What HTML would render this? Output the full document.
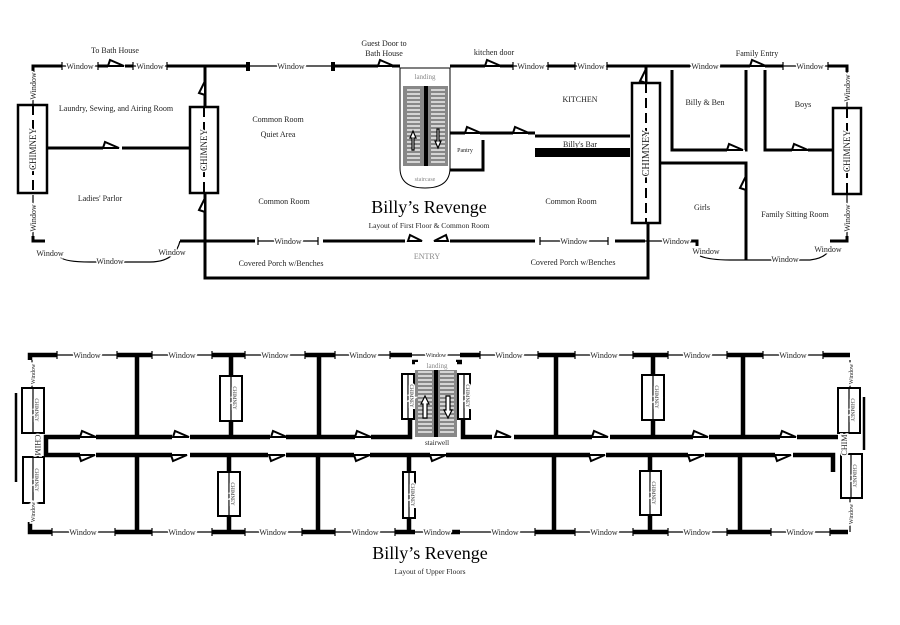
<!DOCTYPE html>
<html><head><meta charset="utf-8"><style>
html,body{margin:0;padding:0;background:#fff;}
svg{display:block;}
text{font-family:"Liberation Serif",serif;fill:#222;}
.w{font-size:8px;stroke:#fff;stroke-width:3px;paint-order:stroke;}
.l{font-size:8px;}
</style></head><body>
<svg width="900" height="625" viewBox="0 0 900 625" xmlns="http://www.w3.org/2000/svg">
<defs>
<polygon id="du" points="0,0 16,0 2,-6" fill="#fff" stroke="#000" stroke-width="2"/>
<polygon id="dd" points="0,0 16,0 2,6" fill="#fff" stroke="#000" stroke-width="2"/>
<polygon id="dv" points="0,0 0,-14 -6,-2" fill="#fff" stroke="#000" stroke-width="2"/>
</defs>

<!-- ================= FIRST FLOOR ================= -->
<g stroke="#000" stroke-width="3" fill="none">
<path d="M33,72 V66 H62 M98,66 H108 M125,66 H133 M167,66 H250 M333,66 H378 M392,66 H400 M450,66 H485 M500,66 H513 M548,66 H575 M607,66 H690 M720,66 H750 M765,66 H783 M828,66 H847 V72"/>
<path d="M33,236 V241 H45"/>
<path d="M48,148 H103 M122,148 H190"/>
<path d="M205,66 V107 M205,193 V278 H648 V223"/>
<path d="M646,66 V83"/>
<path d="M180,241 H255 M323,241 H405 M450,241 H535 M615,241 H645"/>
<path d="M690,241 H697 V246"/>
<path d="M450,133 H465 M480,133 H513 M528,133 H535 M535,136 H630"/>
<path d="M483,140 V170 H450"/>
<path d="M672,70 V150 H727 M745,150 H746 V70"/>
<path d="M765,70 V150 H792 M808,150 H832"/>
<path d="M660,163 H746 V260"/>
<path d="M847,236 V241 H830"/>
</g>
<rect x="535" y="148" width="95" height="9" fill="#000"/>
<g stroke="#000" stroke-width="1.2" fill="none">
<path d="M62,62 V70 M62,66 H98 M98,62 V70"/>
<path d="M133,62 V70 M133,66 H167 M167,62 V70"/>
<path d="M250,66 H333"/>
<path d="M513,62 V70 M513,66 H548 M548,62 V70"/>
<path d="M575,62 V70 M575,66 H607 M607,62 V70"/>
<path d="M690,66 H720"/>
<path d="M783,62 V70 M783,66 H828 M828,62 V70"/>
<path d="M258,237 V245 M258,241 H318 M318,237 V245"/>
<path d="M540,237 V245 M540,241 H608 M608,237 V245"/>
<path d="M645,241 H690"/>
<path d="M33,72 V105 M33,195 V236"/>
<path d="M847,72 V108 M847,194 V236"/>
<path d="M60,257 Q65,262 90,262 H150 Q175,262 180,241"/>
<path d="M700,256 Q710,260 730,260 H810 Q828,258 832,245"/>
</g>
<rect x="246" y="62" width="4" height="9" fill="#000"/>
<rect x="331" y="62" width="4" height="9" fill="#000"/>
<use href="#du" x="108" y="66"/>
<use href="#du" x="378" y="66"/>
<use href="#du" x="485" y="66"/>
<use href="#du" x="750" y="66"/>
<use href="#du" x="103" y="148"/>
<use href="#du" x="465" y="133"/>
<use href="#du" x="513" y="133"/>
<use href="#du" x="727" y="150"/>
<use href="#du" x="792" y="150"/>
<use href="#dv" x="205" y="95"/>
<use href="#dv" x="205" y="212"/>
<use href="#dv" x="646" y="83"/>
<use href="#dv" x="746" y="190"/>
<polygon points="408,241 422,241 410,235" fill="#fff" stroke="#000" stroke-width="2"/>
<polygon points="448,241 434,241 446,235" fill="#fff" stroke="#000" stroke-width="2"/>
<g fill="#fff" stroke="#000" stroke-width="2.5">
<rect x="18" y="105" width="29" height="88"/>
<rect x="190" y="107" width="28" height="86"/>
<rect x="632" y="83" width="28" height="140"/>
<rect x="833" y="108" width="28" height="86"/>
</g>
<g stroke="#000" stroke-width="2" stroke-dasharray="10,5">
<path d="M33,105 V193 M204,107 V193 M646,83 V223 M847,108 V194"/>
</g>
<g>
<text transform="translate(36,149) rotate(-90)" text-anchor="middle" class="w" style="font-size:9px">CHIMNEY</text>
<text transform="translate(207,150) rotate(-90)" text-anchor="middle" class="w" style="font-size:9px">CHIMNEY</text>
<text transform="translate(649,153) rotate(-90)" text-anchor="middle" class="w" style="font-size:10px">CHIMNEY</text>
<text transform="translate(850,151) rotate(-90)" text-anchor="middle" class="w" style="font-size:9px">CHIMNEY</text>
</g>
<path d="M400,68 V168 Q400,188 425,188 Q450,188 450,168 V68 Z" fill="#fff" stroke="#000" stroke-width="1"/>
<rect x="403" y="86" width="21" height="80" fill="#888"/>
<rect x="428" y="86" width="20" height="80" fill="#888"/>
<g stroke="#eee" stroke-width="1.5">
<path d="M407,90 H420 M407,94 H420 M407,98 H420 M407,102 H420 M407,106 H420 M407,110 H420 M407,114 H420 M407,118 H420 M407,122 H420 M407,126 H420 M407,130 H420 M407,134 H420 M407,138 H420 M407,142 H420 M407,146 H420 M407,150 H420 M407,154 H420 M407,158 H420 M407,162 H420"/>
<path d="M431,90 H445 M431,94 H445 M431,98 H445 M431,102 H445 M431,106 H445 M431,110 H445 M431,114 H445 M431,118 H445 M431,122 H445 M431,126 H445 M431,130 H445 M431,134 H445 M431,138 H445 M431,142 H445 M431,146 H445 M431,150 H445 M431,154 H445 M431,158 H445 M431,162 H445"/>
</g>
<rect x="424" y="86" width="4" height="80" fill="#000"/>
<polygon points="413,131 410,138 412,138 412,150 414,150 414,138 416,138" fill="#fff" stroke="#000" stroke-width="1.2"/>
<polygon points="438,148 435,141 437,141 437,129 439,129 439,141 441,141" fill="#fff" stroke="#000" stroke-width="1.2"/>
<text x="425" y="79" text-anchor="middle" class="l" style="fill:#888;font-size:7px">landing</text>
<text x="425" y="181" text-anchor="middle" class="l" style="fill:#888;font-size:6px">staircase</text>
<g class="l">
<text x="115" y="53" text-anchor="middle">To Bath House</text>
<text x="384" y="46" text-anchor="middle">Guest Door to</text>
<text x="384" y="56" text-anchor="middle">Bath House</text>
<text x="494" y="55" text-anchor="middle">kitchen door</text>
<text x="757" y="56" text-anchor="middle">Family Entry</text>
<text x="116" y="111" text-anchor="middle">Laundry, Sewing, and Airing Room</text>
<text x="278" y="122" text-anchor="middle">Common Room</text>
<text x="278" y="137" text-anchor="middle">Quiet Area</text>
<text x="100" y="201" text-anchor="middle">Ladies' Parlor</text>
<text x="284" y="204" text-anchor="middle">Common Room</text>
<text x="580" y="102" text-anchor="middle">KITCHEN</text>
<text x="580" y="147" text-anchor="middle">Billy's Bar</text>
<text x="465" y="152" text-anchor="middle" style="font-size:6px">Pantry</text>
<text x="571" y="204" text-anchor="middle">Common Room</text>
<text x="705" y="105" text-anchor="middle">Billy &amp; Ben</text>
<text x="803" y="107" text-anchor="middle">Boys</text>
<text x="702" y="210" text-anchor="middle">Girls</text>
<text x="795" y="217" text-anchor="middle">Family Sitting Room</text>
<text x="281" y="266" text-anchor="middle">Covered Porch w/Benches</text>
<text x="573" y="265" text-anchor="middle">Covered Porch w/Benches</text>
<text x="427" y="259" text-anchor="middle" style="fill:#888">ENTRY</text>
<text x="429" y="213" text-anchor="middle" style="font-size:18px;fill:#000">Billy’s Revenge</text>
<text x="429" y="228" text-anchor="middle" style="font-size:7.5px">Layout of First Floor &amp; Common Room</text>
</g>
<g class="w" text-anchor="middle">
<text x="80" y="69">Window</text>
<text x="150" y="69">Window</text>
<text x="291" y="69">Window</text>
<text x="531" y="69">Window</text>
<text x="591" y="69">Window</text>
<text x="705" y="69">Window</text>
<text x="810" y="69">Window</text>
<text x="288" y="244">Window</text>
<text x="574" y="244">Window</text>
<text x="676" y="244">Window</text>
<text x="50" y="256">Window</text>
<text x="110" y="264">Window</text>
<text x="172" y="255">Window</text>
<text x="706" y="254">Window</text>
<text x="785" y="262">Window</text>
<text x="828" y="252">Window</text>
<text transform="translate(36,86) rotate(-90)">Window</text>
<text transform="translate(36,218) rotate(-90)">Window</text>
<text transform="translate(850,88) rotate(-90)">Window</text>
<text transform="translate(850,218) rotate(-90)">Window</text>
</g>

<!-- ================= UPPER FLOORS ================= -->
<g stroke="#000" stroke-width="4.5" fill="none">
<path d="M30,360 V355 H57 M117,355 H152 M212,355 H245 M305,355 H335 M390,355 H412 M460,355 H480 M538,355 H575 M633,355 H668 M727,355 H763 M823,355 H850"/>
<path d="M30,522 V532 H52 M115,532 H152 M212,532 H245 M302,532 H335 M395,532 H415 M440,532 H460 M535,532 H575 M633,532 H668 M727,532 H771 M830,532 H848"/>
<path d="M80,437 H46 V455 H80 M96,437 H172 M190,437 H270 M286,437 H355 M371,437 H410 V420 M463,420 V437 H492 M514,437 H592 M610,437 H693 M709,437 H780 M797,437 H838"/>
<path d="M96,455 H172 M190,455 H268 M286,455 H354 M370,455 H430 M446,455 H590 M606,455 H688 M705,455 H775 M793,455 H833 V472"/>
<path d="M137,355 V437 M319,355 V437 M556,355 V437 M743,355 V437"/>
<path d="M231,355 V376 M231,421 V437 M653,355 V375 M653,420 V437"/>
<path d="M412,362 H418 M456,362 H462"/>
<path d="M137,455 V532 M318,455 V532 M554,455 V532 M740,455 V532"/>
<path d="M229,455 V472 M229,516 V532 M409,455 V472 M409,518 V532 M650,455 V471 M650,515 V532"/>
</g>
<g stroke="#000" stroke-width="2.5">
<path d="M16,393 V482 M864,397 V450"/>
</g>
<g stroke="#000" stroke-width="1.2" fill="none">
<path d="M57,351 V359 M57,355 H117 M117,351 V359"/>
<path d="M152,351 V359 M152,355 H212 M212,351 V359"/>
<path d="M245,351 V359 M245,355 H305 M305,351 V359"/>
<path d="M335,351 V359 M335,355 H390 M390,351 V359"/>
<path d="M412,355 H460"/>
<path d="M480,351 V359 M480,355 H538 M538,351 V359"/>
<path d="M575,351 V359 M575,355 H633 M633,351 V359"/>
<path d="M668,351 V359 M668,355 H727 M727,351 V359"/>
<path d="M763,351 V359 M763,355 H823 M823,351 V359"/>
<path d="M52,528 V536 M52,532 H115 M115,528 V536"/>
<path d="M152,528 V536 M152,532 H212 M212,528 V536"/>
<path d="M245,528 V536 M245,532 H302 M302,528 V536"/>
<path d="M335,528 V536 M335,532 H395 M395,528 V536"/>
<path d="M415,532 H440 M460,532 H535 M535,528 V536"/>
<path d="M575,528 V536 M575,532 H633 M633,528 V536"/>
<path d="M668,528 V536 M668,532 H727 M727,528 V536"/>
<path d="M771,528 V536 M771,532 H830 M830,528 V536"/>
<path d="M32,360 V388 M32,503 V522 M850,360 V388 M850,498 V532"/>
</g>
<use href="#du" x="80" y="437"/><use href="#du" x="173" y="437"/><use href="#du" x="271" y="437"/><use href="#du" x="355" y="437"/>
<use href="#du" x="495" y="437"/><use href="#du" x="592" y="437"/><use href="#du" x="692" y="437"/><use href="#du" x="780" y="437"/>
<use href="#dd" x="79" y="455"/><use href="#dd" x="171" y="455"/><use href="#dd" x="269" y="455"/><use href="#dd" x="354" y="455"/>
<use href="#dd" x="430" y="455"/>
<use href="#dd" x="589" y="455"/><use href="#dd" x="688" y="455"/><use href="#dd" x="775" y="455"/>
<!-- upper stairwell -->
<rect x="415" y="366" width="42" height="71" fill="#888"/>
<g stroke="#eee" stroke-width="1.5">
<path d="M418,372 H432 M418,376 H432 M418,380 H432 M418,384 H432 M418,388 H432 M418,392 H432 M418,396 H432 M418,400 H432 M418,404 H432 M418,408 H432 M418,412 H432 M418,416 H432 M418,420 H432 M418,424 H432 M418,428 H432 M418,432 H432"/>
<path d="M440,372 H454 M440,376 H454 M440,380 H454 M440,384 H454 M440,388 H454 M440,392 H454 M440,396 H454 M440,400 H454 M440,404 H454 M440,408 H454 M440,412 H454 M440,416 H454 M440,420 H454 M440,424 H454 M440,428 H454 M440,432 H454"/>
</g>
<rect x="434" y="370" width="4" height="67" fill="#000"/>
<rect x="415" y="362" width="42" height="8" fill="#fff"/>
<polygon points="425,396 421,404 423,404 423,418 427,418 427,404 429,404" fill="#fff" stroke="#000" stroke-width="1.2"/>
<polygon points="448,418 444,410 446,410 446,396 450,396 450,410 452,410" fill="#fff" stroke="#000" stroke-width="1.2"/>
<text x="437" y="368" text-anchor="middle" class="l" style="fill:#888;font-size:7px">landing</text>
<text x="437" y="445" text-anchor="middle" class="l" style="font-size:7px">stairwell</text>
<g fill="#fff" stroke="#000" stroke-width="2">
<rect x="22" y="388" width="22" height="45"/>
<rect x="23" y="457" width="21" height="46"/>
<rect x="220" y="376" width="22" height="45"/>
<rect x="218" y="472" width="22" height="44"/>
<rect x="402" y="374" width="12" height="45"/>
<rect x="458" y="374" width="12" height="45"/>
<rect x="403" y="472" width="12" height="46"/>
<rect x="642" y="375" width="22" height="45"/>
<rect x="640" y="471" width="21" height="44"/>
<rect x="838" y="388" width="22" height="45"/>
<rect x="841" y="454" width="21" height="44"/>
</g>
<g stroke="#000" stroke-width="1.2">
<path d="M33,388 V433 M33,457 V503 M231,376 V421 M229,472 V516 M408,374 V419 M464,374 V419 M409,472 V518 M653,375 V420 M650,471 V515 M849,388 V433 M851,454 V498"/>
</g>
<g class="w" style="font-size:5px;fill:#357">
<text transform="translate(35,410) rotate(90)" text-anchor="middle">CHIMNEY</text>
<text transform="translate(35,480) rotate(90)" text-anchor="middle">CHIMNEY</text>
<text transform="translate(233,398) rotate(90)" text-anchor="middle">CHIMNEY</text>
<text transform="translate(231,494) rotate(90)" text-anchor="middle">CHIMNEY</text>
<text transform="translate(410,396) rotate(90)" text-anchor="middle">CHIMNEY</text>
<text transform="translate(466,396) rotate(90)" text-anchor="middle">CHIMNEY</text>
<text transform="translate(411,495) rotate(90)" text-anchor="middle">CHIMNEY</text>
<text transform="translate(655,397) rotate(90)" text-anchor="middle">CHIMNEY</text>
<text transform="translate(652,493) rotate(90)" text-anchor="middle">CHIMNEY</text>
<text transform="translate(851,410) rotate(90)" text-anchor="middle">CHIMNEY</text>
<text transform="translate(853,476) rotate(90)" text-anchor="middle">CHIMNEY</text>
</g>
<text transform="translate(35,445) rotate(90)" text-anchor="middle" class="w" style="font-size:8px">CHIM</text>
<text transform="translate(847,445) rotate(-90)" text-anchor="middle" class="w" style="font-size:8px">CHIM</text>
<g class="w" text-anchor="middle">
<text x="87" y="358">Window</text>
<text x="182" y="358">Window</text>
<text x="275" y="358">Window</text>
<text x="363" y="358">Window</text>
<text x="436" y="357" style="font-size:6px">Window</text>
<text x="509" y="358">Window</text>
<text x="604" y="358">Window</text>
<text x="697" y="358">Window</text>
<text x="793" y="358">Window</text>
<text x="83" y="535">Window</text>
<text x="182" y="535">Window</text>
<text x="273" y="535">Window</text>
<text x="365" y="535">Window</text>
<text x="437" y="535">Window</text>
<text x="505" y="535">Window</text>
<text x="604" y="535">Window</text>
<text x="697" y="535">Window</text>
<text x="800" y="535">Window</text>
<text transform="translate(35,374) rotate(-90)" style="font-size:6px">Window</text>
<text transform="translate(35,512) rotate(-90)" style="font-size:6px">Window</text>
<text transform="translate(853,374) rotate(-90)" style="font-size:6px">Window</text>
<text transform="translate(853,514) rotate(-90)" style="font-size:6px">Window</text>
</g>
<text x="430" y="559" text-anchor="middle" style="font-size:18px;fill:#000">Billy’s Revenge</text>
<text x="430" y="574" text-anchor="middle" class="l" style="font-size:7.5px">Layout of Upper Floors</text>
</svg>
</body></html>
